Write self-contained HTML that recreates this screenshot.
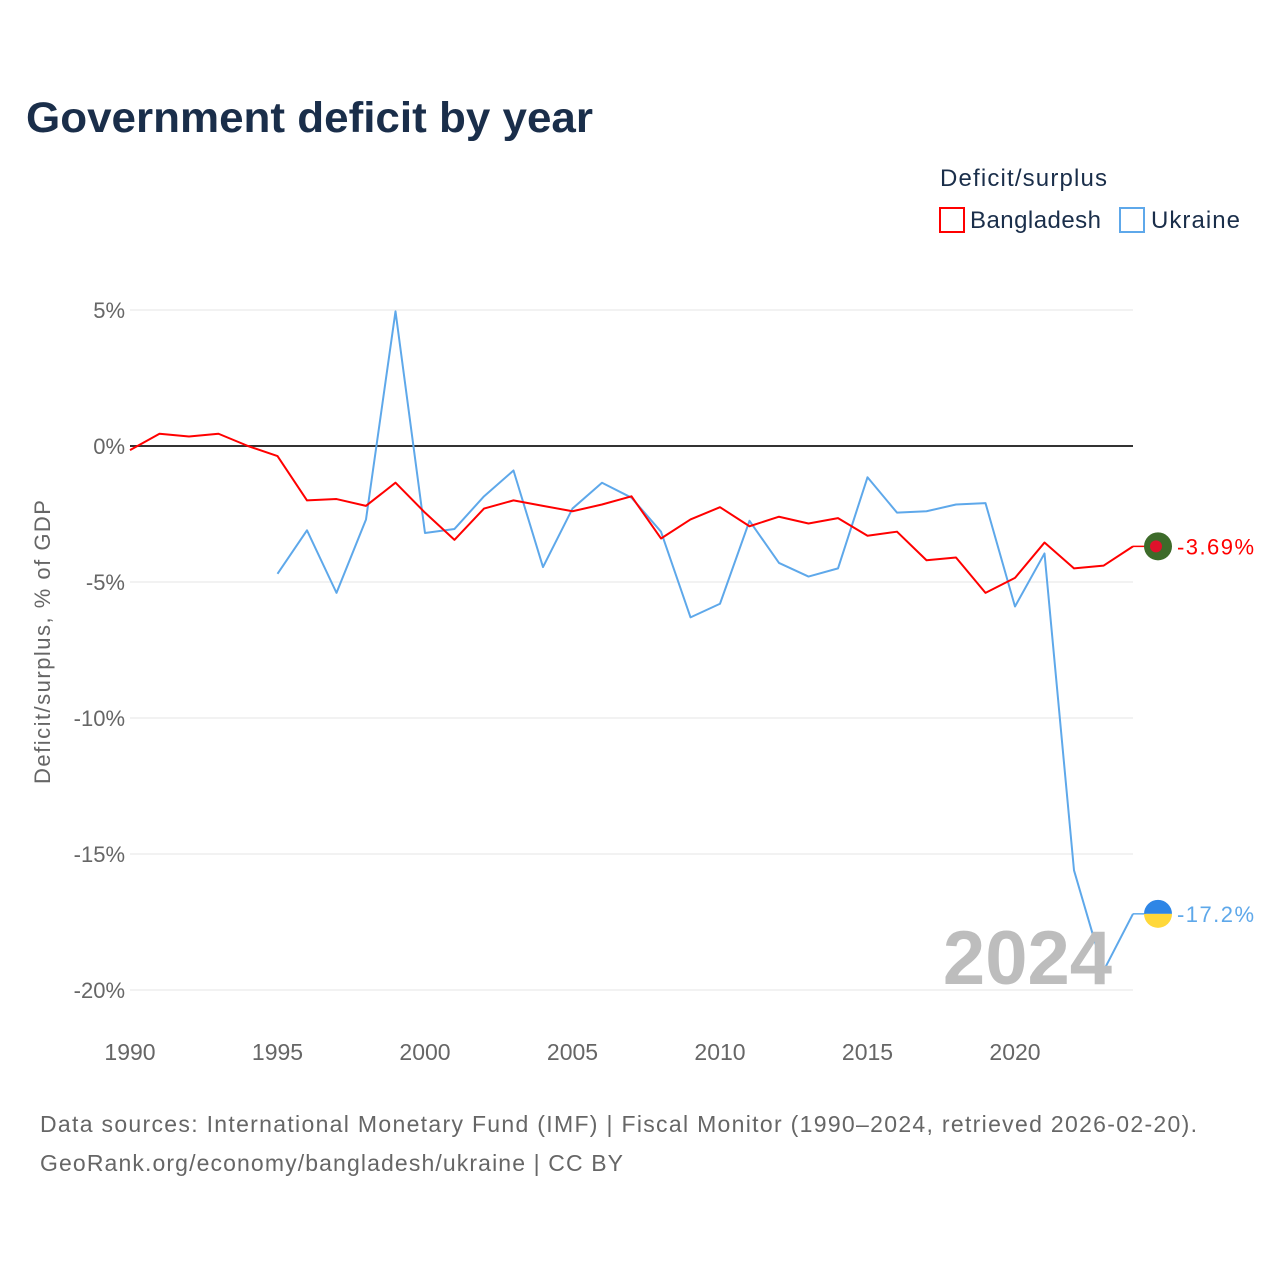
<!DOCTYPE html>
<html><head><meta charset="utf-8"><style>
body{margin:0;background:#fff;font-family:"Liberation Sans",sans-serif}
svg text{font-family:"Liberation Sans",sans-serif}
</style></head><body>
<svg id="chart" width="1280" height="1280" xmlns="http://www.w3.org/2000/svg">
<text x="26" y="132" font-size="43" font-weight="bold" fill="#1a2e4a" textLength="567" lengthAdjust="spacingAndGlyphs">Government deficit by year</text>
<text x="940" y="186" font-size="24" fill="#1a2e4a" textLength="167">Deficit/surplus</text>
<rect x="940" y="208" width="24" height="24" fill="#fff" stroke="#ff0000" stroke-width="2"/>
<text x="970" y="228" font-size="24" fill="#1a2e4a" textLength="131">Bangladesh</text>
<rect x="1120" y="208" width="24" height="24" fill="#fff" stroke="#5ea8ea" stroke-width="2"/>
<text x="1151" y="228" font-size="24" fill="#1a2e4a" textLength="89">Ukraine</text>
<text transform="translate(50,642) rotate(-90)" text-anchor="middle" font-size="22" fill="#666" textLength="284">Deficit/surplus, % of GDP</text>
<g id="grid"></g><g id="lines"></g>
<text x="1112" y="984" text-anchor="end" font-size="76" font-weight="bold" fill="#bdbdbd">2024</text>
<g id="ends"></g>
<text x="40" y="1132" font-size="23" fill="#666" textLength="1157">Data sources: International Monetary Fund (IMF) | Fiscal Monitor (1990–2024, retrieved 2026-02-20).</text>
<text x="40" y="1171" font-size="23" fill="#666" textLength="583">GeoRank.org/economy/bangladesh/ukraine | CC BY</text>
</svg>
<script>
const bangladeshYears=[1990,1991,1992,1993,1994,1995,1996,1997,1998,1999,2000,2001,2002,2003,2004,2005,2006,2007,2008,2009,2010,2011,2012,2013,2014,2015,2016,2017,2018,2019,2020,2021,2022,2023,2024];
const bangladeshValues=[-0.15,0.45,0.35,0.45,0,-0.37,-2.0,-1.95,-2.2,-1.35,-2.45,-3.45,-2.3,-2.0,-2.2,-2.4,-2.15,-1.85,-3.4,-2.7,-2.25,-2.95,-2.6,-2.85,-2.65,-3.3,-3.15,-4.2,-4.1,-5.4,-4.85,-3.55,-4.5,-4.4,-3.69];
const ukraineYears=[1995,1996,1997,1998,1999,2000,2001,2002,2003,2004,2005,2006,2007,2008,2009,2010,2011,2012,2013,2014,2015,2016,2017,2018,2019,2020,2021,2022,2023,2024];
const ukraineValues=[-4.7,-3.1,-5.4,-2.7,4.95,-3.2,-3.05,-1.85,-0.9,-4.45,-2.3,-1.35,-1.9,-3.15,-6.3,-5.8,-2.75,-4.3,-4.8,-4.5,-1.15,-2.45,-2.4,-2.15,-2.1,-5.9,-3.95,-15.6,-19.3,-17.2];
const yTicks=[5,0,-5,-10,-15,-20];
const xTicks=[1990,1995,2000,2005,2010,2015,2020];
const NS="http://www.w3.org/2000/svg";
const X=y=>130+(y-1990)*(1133-130)/34;
const Y=v=>446-v*27.2;
function mk(t,a,p){const e=document.createElementNS(NS,t);for(const k in a)e.setAttribute(k,a[k]);p.appendChild(e);return e;}
const grid=document.getElementById('grid'),lines=document.getElementById('lines'),ends=document.getElementById('ends');
yTicks.forEach(v=>{
 const l=mk('line',{x1:130,x2:1133,y1:Y(v),y2:Y(v),stroke:v===0?'#333':'#e6e6e6','stroke-width':v===0?2:1},grid);
 
 
 const t=mk('text',{x:125,y:Y(v)+8,'text-anchor':'end','font-size':22,fill:'#666'},grid);
 t.textContent=v+'%';
 
 
});
xTicks.forEach(y=>{
 const t=mk('text',{x:X(y),y:1060,'text-anchor':'middle','font-size':23,fill:'#666'},grid);
 t.textContent=y;
 
 
});
function series(ys,vs,col,name){
 const p=mk('polyline',{points:ys.map((y,i)=>X(y)+','+Y(vs[i])).join(' '),fill:'none',stroke:col,'stroke-width':2,'stroke-linejoin':'round'},lines);
 
 
}
series(ukraineYears,ukraineValues,'#5ea8ea','ukraine');
series(bangladeshYears,bangladeshValues,'#ff0000','bangladesh');
function endMark(v,col,name,label){
 const y=Y(v);
 const l=mk('line',{x1:1133,x2:1146,y1:y,y2:y,stroke:col,'stroke-width':1.5},ends);
 
 
 const g=mk('g',{},ends);
 
 
 if(name==='bangladesh'){
  mk('circle',{cx:1158,cy:y,r:14,fill:'#3d6b2a'},g);
  mk('circle',{cx:1156,cy:y,r:6,fill:'#e0112b'},g);
 }else{
  mk('path',{d:`M1144 ${y} A14 14 0 0 1 1172 ${y} Z`,fill:'#2e86e6'},g);
  mk('path',{d:`M1144 ${y} A14 14 0 0 0 1172 ${y} Z`,fill:'#ffd83a'},g);
 }
 const t=mk('text',{x:1177,y:y+8,'font-size':22,fill:col,textLength:77},ends);
 t.textContent=label;
 
 
}
endMark(bangladeshValues[bangladeshValues.length-1],'#ff0000','bangladesh','-3.69%');
endMark(ukraineValues[ukraineValues.length-1],'#5ea8ea','ukraine','-17.2%');
</script>
</body></html>
